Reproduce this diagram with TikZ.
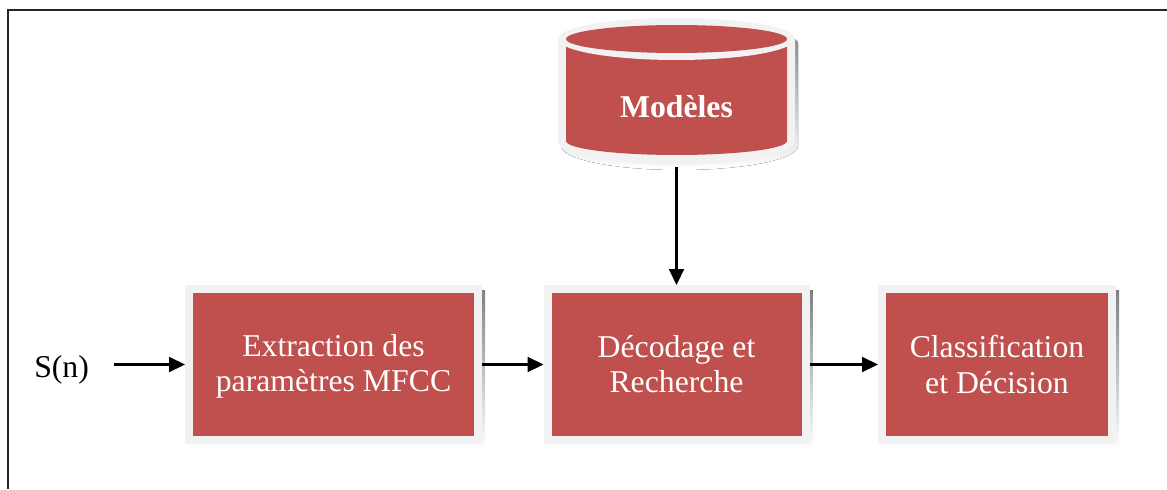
\documentclass[tikz,border=0pt]{standalone}
\usepackage{fontspec}
\setmainfont{Liberation Serif}
\usetikzlibrary{arrows.meta,backgrounds,calc}
\definecolor{boxred}{RGB}{192,80,77}
\definecolor{rim}{RGB}{242,242,242}
\definecolor{shade}{RGB}{184,146,146}
\begin{document}
\begin{tikzpicture}[x=0.75pt,y=-0.75pt,
  box/.style={draw=rim, fill=boxred, line width=6pt, outer sep=3pt, inner sep=0pt,
    minimum height=113.25pt, text=white, align=center,
    font=\fontsize{23.8}{26.3}\selectfont},
  arr/.style={line width=1.6pt, -{Triangle[length=12pt,width=11.25pt]}},
  lbl/.style={font=\fontsize{23.8}{26.3}\selectfont, inner sep=0pt}]
\useasboundingbox (0,0) rectangle (1167,489);
% frame
\draw[line width=1.6pt, black!85] (8,489) -- (8,10) -- (1167,10);
% cylinder (database)
\fill[shade] (561,44) -- (561,146) arc[start angle=180,end angle=360,x radius=88.875pt,y radius=18pt]
  -- (798,44) arc[start angle=0,end angle=180,x radius=88.875pt,y radius=15.75pt] -- cycle;
\fill[rim] (558,39) -- (558,141) arc[start angle=180,end angle=360,x radius=88.875pt,y radius=18pt]
  -- (795,39) arc[start angle=0,end angle=180,x radius=88.875pt,y radius=15.75pt] -- cycle;
\fill[boxred] (566,39) -- (566,141) arc[start angle=180,end angle=360,x radius=82.875pt,y radius=10.5pt]
  -- (787,39) -- cycle;
\fill[rim] (676.5,39) ellipse[x radius=88.875pt, y radius=15.75pt];
\fill[boxred] (676.5,39) ellipse[x radius=82.875pt, y radius=10.5pt];
\node[minimum width=177.75pt, minimum height=112.5pt, inner sep=0pt, outer sep=0pt] (db) at (676.5,92) {};
\node[lbl, anchor=base, text=white, font=\fontsize{23.8}{26.3}\selectfont\bfseries] (mod) at (676.5,117) {Modèles};
% boxes
\node[box, minimum width=216.75pt] (b1) at (333.5,364.5) {\rule{0pt}{20pt}Extraction des\\paramètres MFCC};
\node[box, minimum width=193.5pt] (b2) at (676.5,364.5) {Décodage et\\Recherche};
\node[box, minimum width=172.5pt] (b3) at (997,364.5) {Classification\\et Décision};
\begin{scope}[on background layer]
  \foreach \b in {b1,b2,b3}
    \fill[shade] ($(\b.south west)+(3,5)$) rectangle ($(\b.north east)+(3,5)$);
\end{scope}
% input label
\node[lbl, anchor=base west] (s) at (34,377) {S(n)};
% connectors
\draw[arr, shorten <=18.75pt] (s.east |- b1.west) -- (b1.west);
\draw[arr] (b1) -- (b2);
\draw[arr] (b2) -- (b3);
\draw[arr] (db.south) -- (b2.north);
\end{tikzpicture}
\end{document}
